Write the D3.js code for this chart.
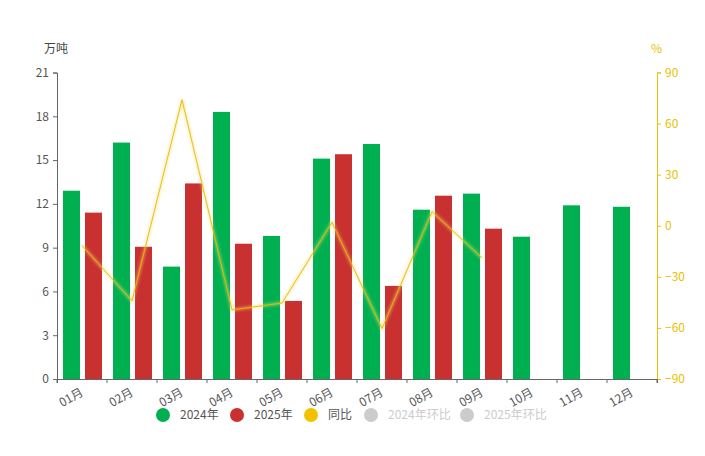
<!DOCTYPE html>
<html><head><meta charset="utf-8">
<script src="https://cdn.jsdelivr.net/npm/d3@7"></script>
<style>body{margin:0;background:#fff;font-family:"Microsoft YaHei","Noto Sans CJK SC",sans-serif;}</style>
</head><body><svg id="c" width="705" height="456"></svg>
<script>
const categories = ["01月","02月","03月","04月","05月","06月","07月","08月","09月","10月","11月","12月"];
const values2024 = [12.9,16.2,7.7,18.3,9.8,15.1,16.1,11.6,12.7,9.75,11.9,11.8];
const values2025 = [11.4,9.06,13.4,9.27,5.35,15.4,6.38,12.56,10.3];
const yoy = [-11.6,-44.1,74.0,-49.4,-45.4,2.0,-60.4,8.3,-18.9];
const leftTicks = [0,3,6,9,12,15,18,21];
const rightTicks = [-90,-60,-30,0,30,60,90];
const legendItems = [
  {name:"2024年", color:"#00b050", text:"#555"},
  {name:"2025年", color:"#c8312f", text:"#555"},
  {name:"同比", color:"#f2c200", text:"#555"},
  {name:"2024年环比", color:"#cccccc", text:"#cccccc"},
  {name:"2025年环比", color:"#cccccc", text:"#cccccc"}
];

const svg = d3.select("#c");
const L=57, R=657, T=72.5, B=379;
const font = '"Microsoft YaHei","Noto Sans CJK SC",sans-serif';

const x = d3.scaleBand().domain(categories).range([L,R]);
const yL = d3.scaleLinear().domain([0,21]).range([B,T]);
const yR = d3.scaleLinear().domain([-90,90]).range([B,T]);

const defs = svg.append("defs");
const f = defs.append("filter").attr("id","glow").attr("x","-20%").attr("y","-20%").attr("width","140%").attr("height","140%");
f.append("feGaussianBlur").attr("in","SourceGraphic").attr("stdDeviation",1.5);

// bars
const bw = 17;
svg.append("g").selectAll("rect").data(values2024).join("rect")
  .attr("x",(d,i)=>x(categories[i])+6).attr("width",bw)
  .attr("y",d=>yL(d)).attr("height",d=>B-yL(d)).attr("fill","#00b050");
svg.append("g").selectAll("rect").data(values2025).join("rect")
  .attr("x",(d,i)=>x(categories[i])+28).attr("width",bw)
  .attr("y",d=>yL(d)).attr("height",d=>B-yL(d)).attr("fill","#c8312f");

// left axis
const la = svg.append("g").attr("transform",`translate(${L},0)`)
  .call(d3.axisLeft(yL).tickValues(leftTicks).tickSize(4).tickPadding(4));
la.select(".domain").attr("stroke","#666");
la.selectAll(".tick line").attr("stroke","#666");
la.selectAll("text").attr("fill","#555").style("font-size","12px").style("font-family",font);
svg.append("text").attr("x",44).attr("y",53).text("万吨").attr("fill","#444").style("font-size","12px").style("font-family",font);

// right axis
const ra = svg.append("g").attr("transform",`translate(${R},0)`)
  .call(d3.axisRight(yR).tickValues(rightTicks).tickSize(4).tickPadding(4));
ra.select(".domain").attr("stroke","#e8c100");
ra.selectAll(".tick line").attr("stroke","#e8c100");
ra.selectAll("text").attr("fill","#e8c100").style("font-size","12px").style("font-family",font);
svg.append("text").attr("x",651).attr("y",53).text("%").attr("fill","#e8c100").style("font-size","12px").style("font-family",font);

// x axis
const xa = svg.append("g").attr("transform",`translate(0,${B})`)
  .call(d3.axisBottom(x).tickSize(4).tickSizeOuter(4).tickFormat(()=>""));
xa.select(".domain").attr("stroke","#666");
xa.selectAll(".tick line").attr("stroke","#666").attr("transform",`translate(${-x.bandwidth()/2},0)`);
svg.append("line").attr("x1",R).attr("x2",R).attr("y1",B).attr("y2",B+4).attr("stroke","#666");
svg.append("g").selectAll("text").data(categories).join("text")
  .attr("transform",d=>`translate(${x(d)+x.bandwidth()/2},${B+12}) rotate(-30)`)
  .attr("text-anchor","end").attr("dy","0.35em")
  .attr("fill","#555").style("font-size","12px").style("font-family",font).text(d=>d);

// yoy line
const line = d3.line().x((d,i)=>x(categories[i])+x.bandwidth()/2).y(d=>yR(d));
svg.append("path").datum(yoy).attr("d",line).attr("fill","none")
  .attr("stroke","#f2dc6a").attr("stroke-width",2.5).attr("opacity",0.6).attr("filter","url(#glow)");
svg.append("path").datum(yoy).attr("d",line).attr("fill","none")
  .attr("stroke","#e9b800").attr("stroke-width",0.9);

// legend
const lx = [163,237,311,371,467];
const lg = svg.append("g").selectAll("g").data(legendItems).join("g")
  .attr("transform",(d,i)=>`translate(${lx[i]},415)`);
lg.append("circle").attr("r",7).attr("fill",d=>d.color);
lg.append("text").attr("x",17).attr("dy","0.35em").text(d=>d.name)
  .attr("fill",d=>d.text).style("font-size","12px").style("font-family",font);
</script></body></html>
